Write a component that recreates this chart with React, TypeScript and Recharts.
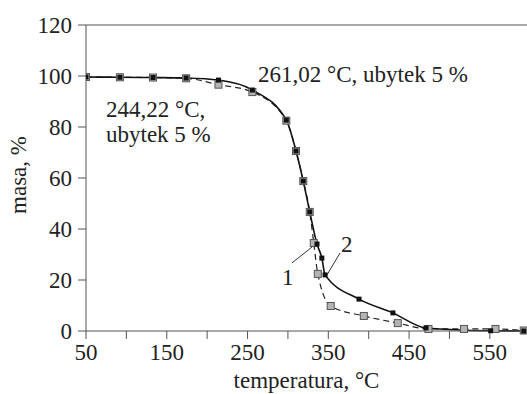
import { LineChart, Line, XAxis, YAxis, ReferenceLine } from 'recharts';

// seria 1 (linia przerywana, szare kwadraty)
const temp1 = [50, 92, 133, 174, 214, 256, 298, 310, 319, 327, 332, 337, 353, 394, 436, 474, 518, 557, 592];
const masa1 = [99.6, 99.5, 99.4, 99.1, 96.6, 93.7, 82.5, 70.6, 58.8, 46.7, 34.5, 22.4, 9.8, 5.9, 3.1, 0.8, 0.8, 0.8, 0.2];

// seria 2 (linia ciągła, czarne kwadraty)
const temp2 = [50, 92, 133, 174, 214, 256, 298, 310, 319, 327, 336, 342, 346, 388, 430, 471, 551, 592];
const masa2 = [99.6, 99.5, 99.4, 99.2, 98.4, 94.5, 82.7, 70.6, 58.8, 46.7, 34.1, 28.6, 22, 12.5, 7.1, 1.2, 0.1, 0];

const xTicks = [50, 100, 150, 200, 250, 300, 350, 400, 450, 500, 550];
const yTicks = [0, 20, 40, 60, 80, 100, 120];

const series1 = temp1.map((t, i) => ({ t, m: masa1[i] }));
const series2 = temp2.map((t, i) => ({ t, m: masa2[i] }));

const FONT = '"Liberation Serif", "Times New Roman", serif';
const INK = '#222';

const GraySquare = (props: any) => {
  const { cx, cy } = props;
  if (cx == null || cy == null) return null;
  return <rect x={cx - 3.5} y={cy - 3.5} width={7} height={7} fill="#b4b4b4" stroke="#555" strokeWidth={1} />;
};

const BlackSquare = (props: any) => {
  const { cx, cy } = props;
  if (cx == null || cy == null) return null;
  return <rect x={cx - 2.5} y={cy - 2.5} width={5} height={5} fill="#111" />;
};

export default function App() {
  return (
    <div style={{ position: 'absolute', left: 0, top: 0, width: 527, height: 394 }}>
      <LineChart width={527} height={394} margin={{ top: 25, right: 0, bottom: 0, left: 0 }}>
        <XAxis
          type="number"
          dataKey="t"
          domain={[50, 596]}
          ticks={xTicks}
          tickFormatter={(v: number) => (v % 100 === 50 ? String(v) : '')}
          allowDataOverflow
          height={63}
          stroke="#555"
          tickSize={8}
          tickMargin={5}
          tick={{ fill: INK, fontSize: 23, fontFamily: FONT }}
          label={{ value: 'temperatura, °C', position: 'insideBottom', offset: 6, fill: INK, fontSize: 23, fontFamily: FONT }}
        />
        <YAxis
          type="number"
          dataKey="m"
          domain={[0, 120]}
          ticks={yTicks}
          width={86}
          stroke="#555"
          tickSize={8}
          tickMargin={6}
          tick={{ fill: INK, fontSize: 23, fontFamily: FONT }}
        />
        <ReferenceLine y={120} stroke="#555" />
        <ReferenceLine segment={[{ x: 305, y: 26.7 }, { x: 329.8, y: 32.9 }]} stroke="#333" />
        <ReferenceLine segment={[{ x: 364.5, y: 30.6 }, { x: 348.4, y: 22 }]} stroke="#333" />
        <Line
          data={series1}
          dataKey="m"
          type="monotone"
          stroke="#222"
          strokeWidth={1.2}
          strokeDasharray="6 4"
          dot={<GraySquare />}
          activeDot={false}
          isAnimationActive={false}
        />
        <Line
          data={series2}
          dataKey="m"
          type="monotone"
          stroke="#111"
          strokeWidth={1.6}
          dot={<BlackSquare />}
          activeDot={false}
          isAnimationActive={false}
        />
      </LineChart>
      <svg
        width={527}
        height={394}
        style={{ position: 'absolute', left: 0, top: 0, pointerEvents: 'none' }}
        fontFamily={FONT}
        fontSize={23}
        fill={INK}
      >
        <text transform="translate(26,175) rotate(-90)" textAnchor="middle">masa, %</text>
        <text x={258} y={82}>261,02 °C, ubytek 5 %</text>
        <text x={106} y={117}>244,22 °C,</text>
        <text x={106} y={142}>ubytek 5 %</text>
        <text x={282} y={285}>1</text>
        <text x={341} y={252}>2</text>
      </svg>
    </div>
  );
}
